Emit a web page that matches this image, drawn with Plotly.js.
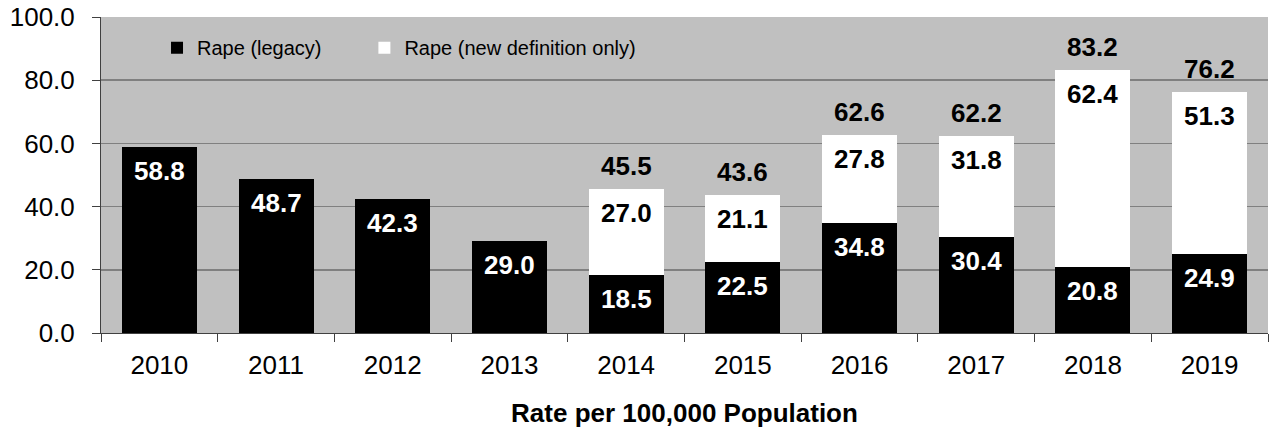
<!DOCTYPE html>
<html>
<head>
<meta charset="utf-8">
<script src="https://cdn.plot.ly/plotly-3.0.1.min.js"></script>
<style>html,body{margin:0;padding:0;background:#fff}#chart{width:1270px;height:435px}</style>
</head>
<body>
<div id="chart"></div>
<script>
const years = ['2010','2011','2012','2013','2014','2015','2016','2017','2018','2019'];
const legacy = [58.8, 48.7, 42.3, 29.0, 18.5, 22.5, 34.8, 30.4, 20.8, 24.9];
const newDef = [null, null, null, null, 27.0, 21.1, 27.8, 31.8, 62.4, 51.3];
const totals = [null, null, null, null, 45.5, 43.6, 62.6, 62.2, 83.2, 76.2];
const yTicks = [0, 20, 40, 60, 80, 100];

const FONT = 'Liberation Sans, Arial, sans-serif';
const annotations = [];
years.forEach((yr, i) => {
  annotations.push({x: i, y: legacy[i], text: legacy[i].toFixed(1), showarrow: false,
    yanchor: 'middle', yshift: -24, font: {family: FONT, size: 26, color: '#ffffff', weight: 'bold'}});
  if (newDef[i] != null) {
    annotations.push({x: i, y: legacy[i] + newDef[i], text: newDef[i].toFixed(1), showarrow: false,
      yanchor: 'middle', yshift: -24, font: {family: FONT, size: 26, color: '#000000', weight: 'bold'}});
  }
  if (totals[i] != null) {
    annotations.push({x: i, y: totals[i], text: totals[i].toFixed(1), showarrow: false,
      yanchor: 'middle', yshift: 23, font: {family: FONT, size: 26, color: '#000000', weight: 'bold'}});
  }
});

const data = [
  {type: 'bar', name: 'Rape (legacy)', x: years, y: legacy, legend: 'legend',
   marker: {color: '#000000', line: {width: 0}}, textposition: 'none', hoverinfo: 'skip'},
  {type: 'bar', name: 'Rape (new definition only)', x: years, y: newDef, legend: 'legend2',
   marker: {color: '#ffffff', line: {width: 0}}, textposition: 'none', hoverinfo: 'skip'}
];

const legendBase = {orientation: 'h', xanchor: 'left', y: 0.903, yanchor: 'middle',
  bgcolor: 'rgba(0,0,0,0)', font: {family: FONT, size: 20, color: '#000'}};

const layout = {
  width: 1270, height: 435,
  margin: {l: 101, r: 2, t: 17, b: 102},
  paper_bgcolor: '#ffffff', plot_bgcolor: '#c0c0c0',
  barmode: 'stack', bargap: 0.357,
  font: {family: FONT, color: '#000000'},
  showlegend: true,
  legend: Object.assign({}, legendBase, {x: 0.048}),
  legend2: Object.assign({}, legendBase, {x: 0.2257}),
  xaxis: {type: 'category', range: [-0.5, years.length - 0.5], tickson: 'boundaries',
    ticks: 'outside', ticklen: 8, tickcolor: '#404040',
    showline: true, linecolor: '#404040', linewidth: 1, showgrid: false,
    tickfont: {family: FONT, size: 26, color: '#000'}, tickangle: 0, ticklabelstandoff: 9,
    title: {text: 'Rate per 100,000 Population', standoff: 24,
      font: {family: FONT, size: 26, color: '#000', weight: 'bold'}}},
  yaxis: {range: [0, 100], tickvals: yTicks, ticktext: yTicks.map(v => v.toFixed(1)),
    ticks: 'outside', ticklen: 8, tickcolor: '#404040',
    showline: true, linecolor: '#404040', linewidth: 1,
    showgrid: true, gridcolor: '#808080', gridwidth: 1.5, zeroline: false,
    tickfont: {family: FONT, size: 26, color: '#000'}, ticklabelstandoff: 12},
  annotations: annotations
};

Plotly.newPlot('chart', data, layout, {displayModeBar: false, staticPlot: true});
</script>
</body>
</html>
